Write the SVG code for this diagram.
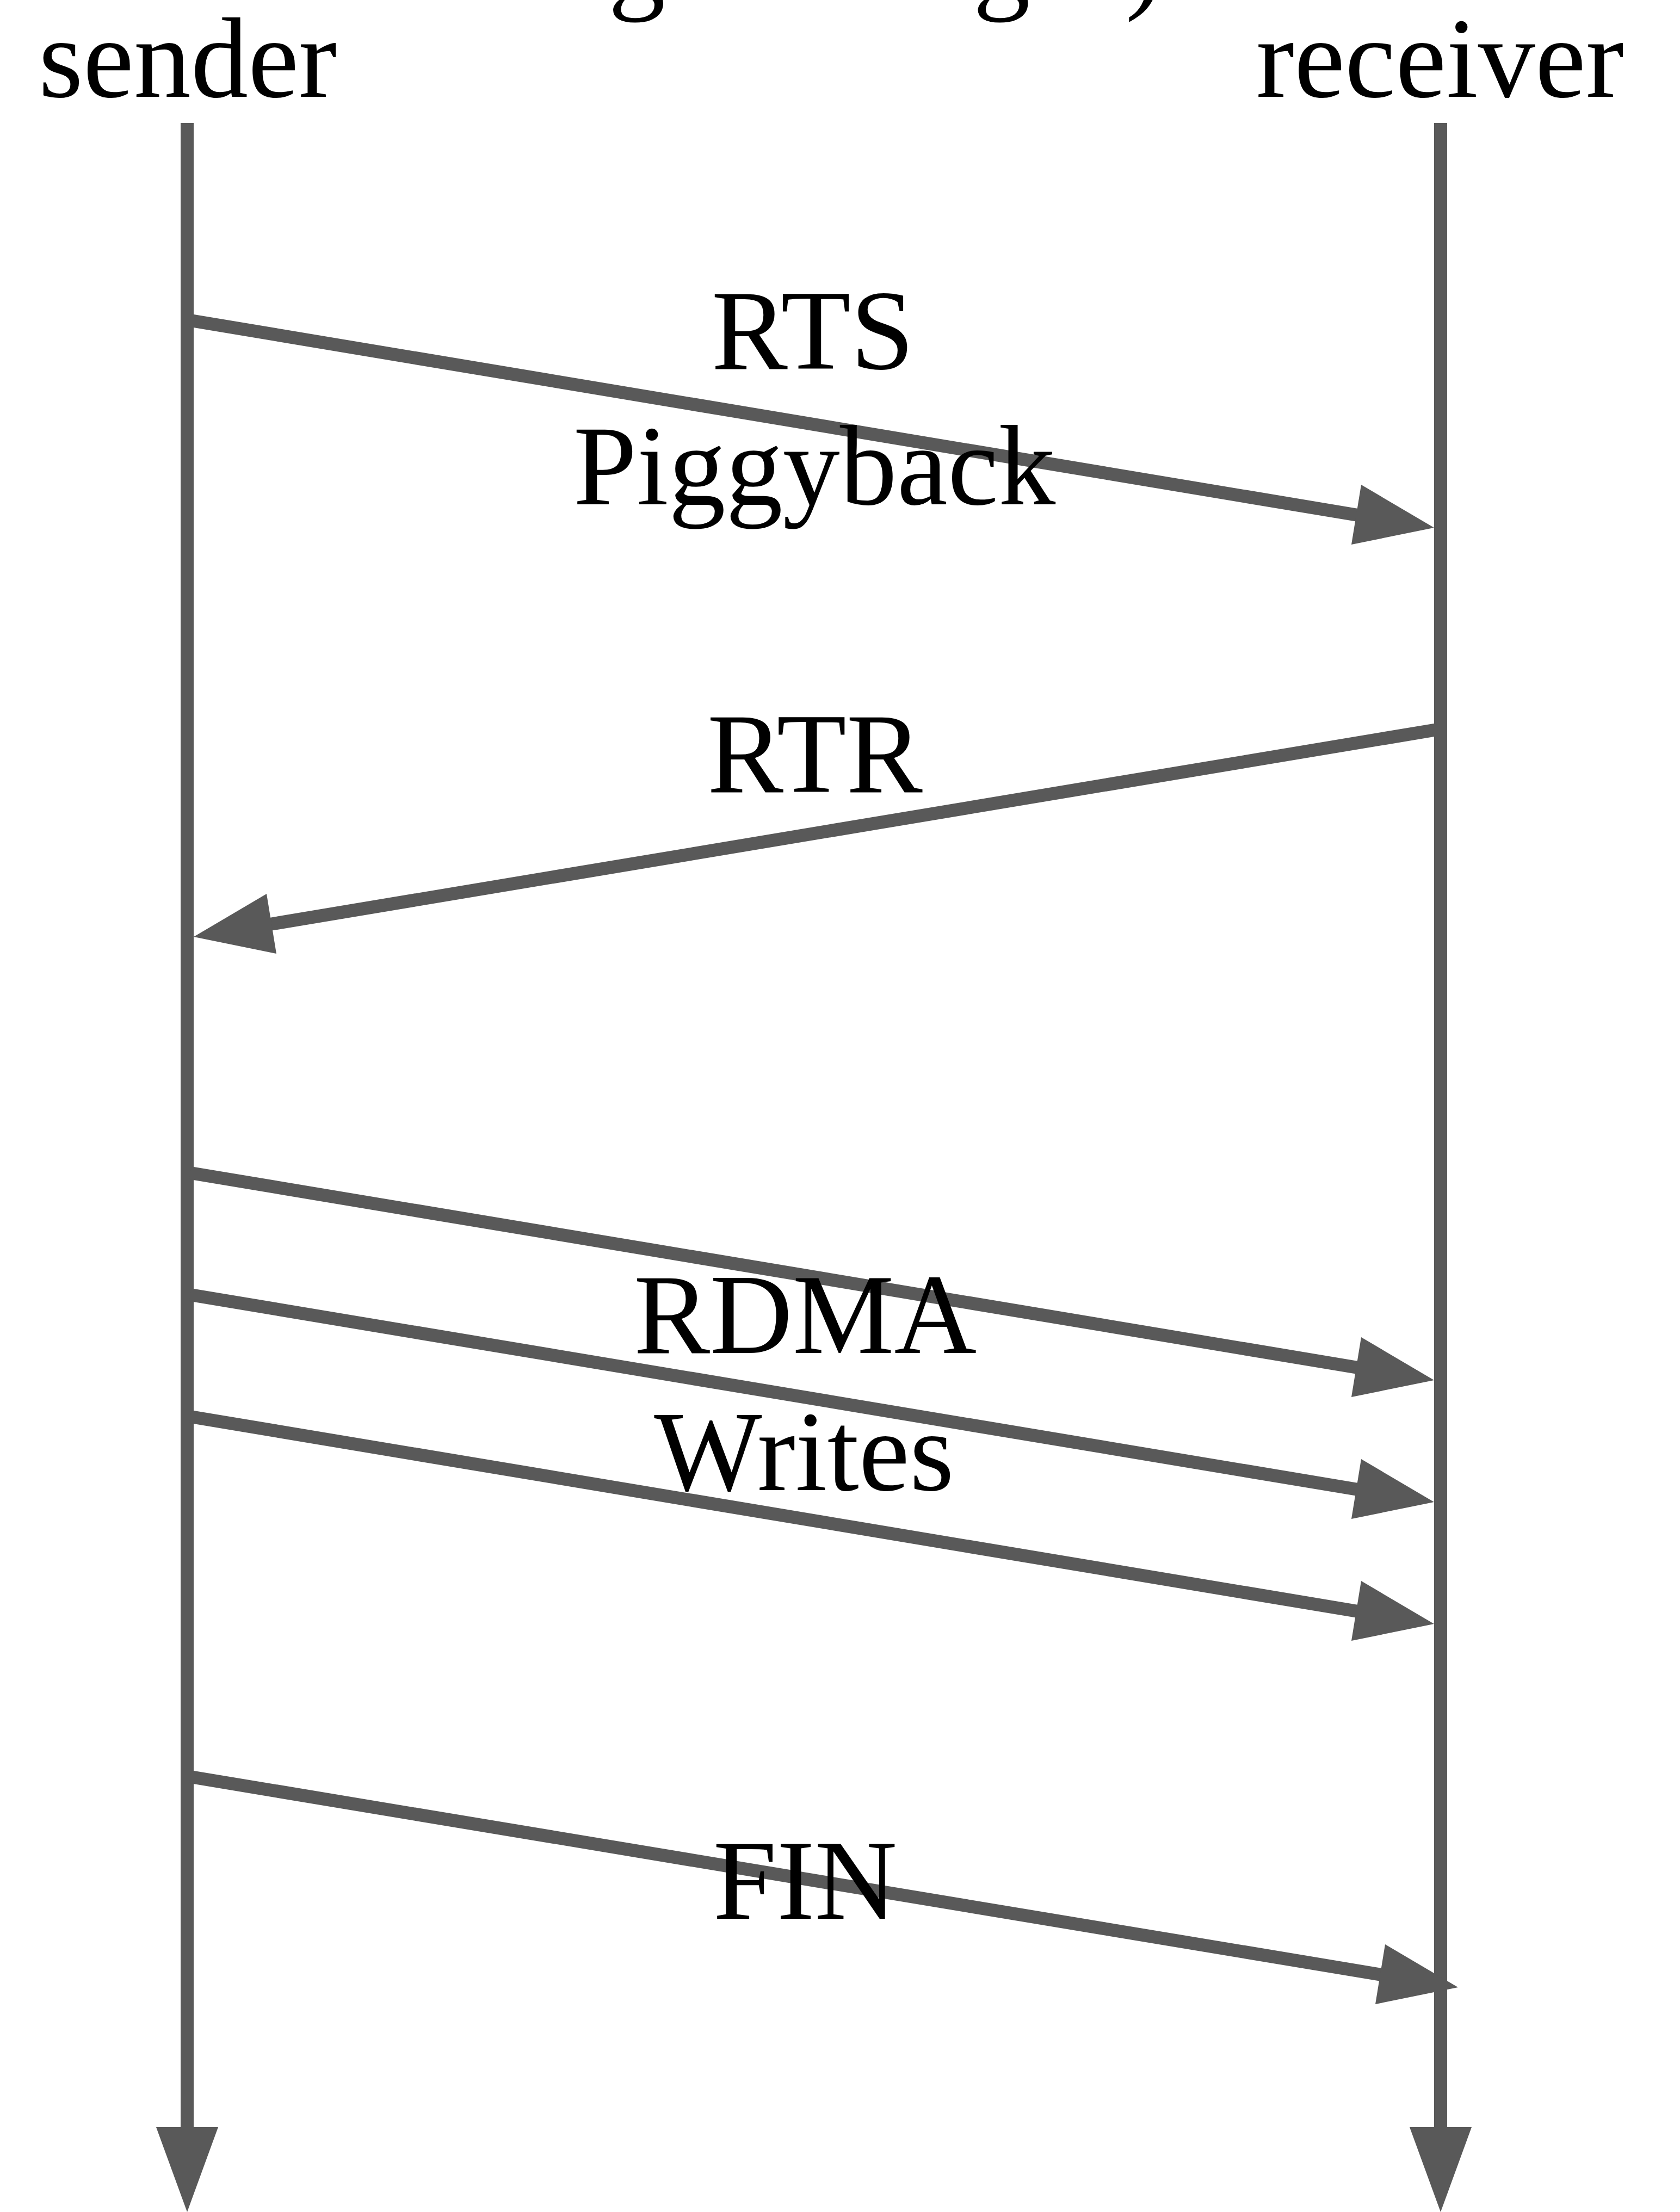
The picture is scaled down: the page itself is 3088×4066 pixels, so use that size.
<svg xmlns="http://www.w3.org/2000/svg" width="3088" height="4066" viewBox="0 0 3088 4066">
<style>
.lane{stroke:#595959;stroke-width:24;fill:none;stroke-linecap:butt}
.msg{stroke:#595959;stroke-width:24;fill:none;stroke-linecap:butt}
.head{fill:#595959;stroke:none}
.t{font-family:"Liberation Serif","Times New Roman",serif;font-size:210px;fill:#000;text-anchor:middle}
</style>
<rect width="3088" height="4066" fill="#ffffff"/>
<g id="title">
<text class="t" x="1494" y="-4">long messages)</text>
</g>
<g id="sender">
<text class="t" x="345" y="178">sender</text>
<line class="lane" x1="344" y1="226" x2="344" y2="3915"/>
<polygon class="head" points="287,3910 401,3910 344,4066"/>
</g>
<g id="receiver">
<text class="t" x="2647" y="178">receiver</text>
<line class="lane" x1="2648" y1="226" x2="2648" y2="3915"/>
<polygon class="head" points="2591,3910 2705,3910 2648,4066"/>
</g>
<g id="connectors">
<g id="rts">
<line class="msg" x1="350" y1="589" x2="2508" y2="949"/>
<polygon class="head" points="2636,970 2484,1001 2502,891"/>
</g>
<g id="rtr">
<line class="msg" x1="2642" y1="1341" x2="484" y2="1701"/>
<polygon class="head" points="356,1722 508,1753 490,1643"/>
</g>
<g id="rdma1">
<line class="msg" x1="350" y1="2156" x2="2508" y2="2516"/>
<polygon class="head" points="2636,2537 2484,2568 2502,2458"/>
</g>
<g id="rdma2">
<line class="msg" x1="350" y1="2380" x2="2508" y2="2740"/>
<polygon class="head" points="2636,2761 2484,2792 2502,2682"/>
</g>
<g id="rdma3">
<line class="msg" x1="350" y1="2604" x2="2508" y2="2964"/>
<polygon class="head" points="2636,2985 2484,3016 2502,2906"/>
</g>
<g id="fin">
<line class="msg" x1="350" y1="3266" x2="2552" y2="3632"/>
<polygon class="head" points="2680,3653 2528,3684 2546,3574"/>
</g>
</g>
<g id="labels">
<text class="t" x="1494" y="678">RTS</text>
<text class="t" x="1497" y="927">Piggyback</text>
<text class="t" x="1498" y="1456">RTR</text>
<text class="t" x="1480" y="2487">RDMA</text>
<text class="t" x="1478" y="2739">Writes</text>
<text class="t" x="1480" y="3527">FIN</text>
</g>
</svg>
